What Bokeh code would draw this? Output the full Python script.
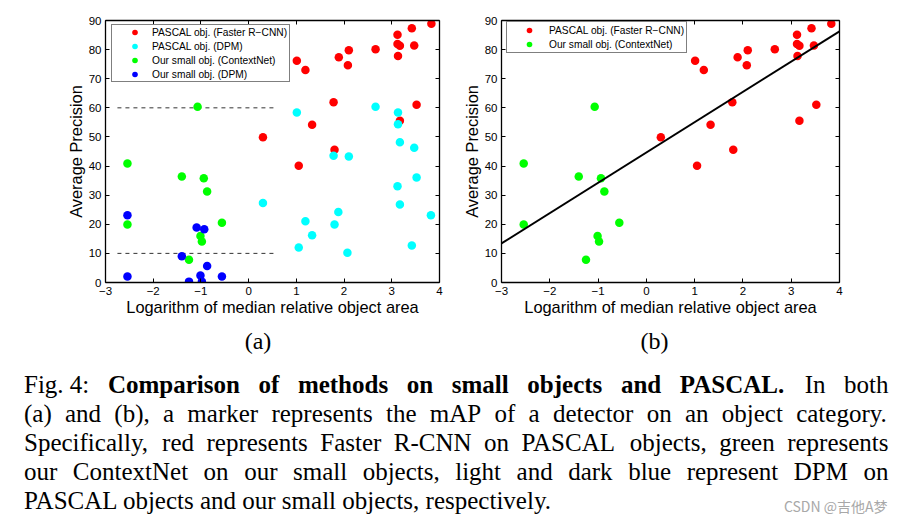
from bokeh.plotting import figure
from bokeh.models import Range1d, LinearAxis, FixedTicker, ColumnDataSource
from bokeh.layouts import column, row
from bokeh.embed import file_html
from bokeh.resources import INLINE
from bokeh.core.properties import value

# ---------------- data ----------------
# PASCAL object categories: log median relative area
pascal_x = [3.83, 3.42, 3.12, 3.12, 3.17, 3.47, 2.66, 2.10, 1.89, 2.08,
            3.13, 1.01, 1.19, 1.78, 3.52, 3.17, 1.33, 0.30, 1.80, 1.05]
frcnn_ap = [88.9, 87.3, 85.1, 81.9, 81.3, 81.4, 80.1, 79.8, 77.4, 74.6,
            77.8, 76.2, 73.0, 61.9, 61.1, 55.6, 54.2, 49.9, 45.6, 40.1]
dpm_pascal_x = [1.01, 2.66, 3.13, 3.13, 3.17, 3.47, 1.78, 2.10, 3.52, 3.12,
                0.30, 3.17, 1.88, 3.82, 1.19, 1.80, 1.33, 1.05, 3.42, 2.07]
dpm_pascal_ap = [58.4, 60.4, 58.4, 54.4, 48.2, 46.3, 43.5, 43.3, 36.1, 33.1,
                 27.3, 26.8, 24.2, 23.1, 21.0, 19.9, 16.2, 12.0, 12.7, 10.2]
# Our small object categories
small_x = [-1.07, -2.54, -1.40, -0.94, -0.87, -2.54, -0.56, -1.01, -0.98, -1.25]
contextnet_ap = [60.4, 40.9, 36.4, 35.8, 31.3, 19.9, 20.5, 16.0, 14.1, 7.8]
dpm_small_x = [-2.54, -1.09, -0.93, -1.40, -0.87, -1.01, -2.54, -0.56, -1.25, -0.98]
dpm_small_ap = [23.1, 18.9, 18.3, 9.0, 5.7, 2.4, 2.1, 2.1, 0.3, 0.3]

# dashed reference levels in (a)
thr_ap = [60, 10]
thr_x = [-2.75, 0.6]
# fitted line in (b)
fit_x = [-3, 4]
fit_y = [13.4, 86.3]

x_ticks = [-3, -2, -1, 0, 1, 2, 3, 4]
y_ticks = [0, 10, 20, 30, 40, 50, 60, 70, 80, 90]
x_label = "Logarithm of median relative object area"
y_label = "Average Precision"
legend_labels = ["PASCAL obj. (Faster R\u2212CNN)", "PASCAL obj. (DPM)",
                 "Our small obj. (ContextNet)", "Our small obj. (DPM)"]
sub_labels = ["(a)", "(b)"]
caption_lines = [
    "Fig.\u00a04: Comparison of methods on small objects and PASCAL. In both",
    "(a) and (b), a marker represents the mAP of a detector on an object category.",
    "Specifically, red represents Faster R-CNN on PASCAL objects, green represents",
    "our ContextNet on our small objects, light and dark blue represent DPM on",
    "PASCAL objects and our small objects, respectively.",
]
bold_tokens_line1 = range(1, 9)
watermark = "CSDN @\u5409\u4ed6A\u68a6"

RED, CYAN, GREEN, BLUE = "#FF0000", "#00FFFF", "#00FF00", "#0000FF"
SANS = "Liberation Sans"
SERIF = "Liberation Serif"
MS = 8.5


def style_axes(p):
    tick_over = {-3: "\u22123", -2: "\u22122", -1: "\u22121"}
    for ax in p.xaxis:
        ax.ticker = FixedTicker(ticks=x_ticks)
        ax.major_label_overrides = tick_over
        ax.axis_label = x_label
        ax.axis_label_standoff = 0
    for ax in p.yaxis:
        ax.ticker = FixedTicker(ticks=y_ticks)
        ax.axis_label = y_label
        ax.axis_label_standoff = 1
    for ax in list(p.xaxis) + list(p.yaxis):
        ax.major_tick_in = 4
        ax.major_tick_out = 0
        ax.minor_tick_in = 0
        ax.minor_tick_out = 0
        ax.axis_line_color = "black"
        ax.axis_line_width = 1.3
        ax.major_tick_line_color = "black"
        ax.major_label_text_font = SANS
        ax.major_label_text_font_size = "11.5px"
        ax.major_label_text_color = "black"
        ax.major_label_standoff = 4
        ax.axis_label_text_font = SANS
        ax.axis_label_text_font_size = "16.4px"
        ax.axis_label_text_font_style = "normal"
        ax.axis_label_text_color = "black"
    # mirrored box axes (ticks only)
    for loc, ticks in (("right", y_ticks), ("above", x_ticks)):
        ax = LinearAxis(ticker=FixedTicker(ticks=ticks),
                        major_label_overrides={t: "" for t in ticks},
                        major_tick_in=4, major_tick_out=0,
                        minor_tick_in=0, minor_tick_out=0,
                        major_label_standoff=0,
                        axis_line_color="black", axis_line_width=1.3,
                        major_label_text_font_size="1px")
        p.add_layout(ax, loc)
    p.xgrid.visible = False
    p.ygrid.visible = False
    p.outline_line_color = None


def style_legend(p, frame_h, top_gap, left_gap, n, pad_left, pad_v, gw):
    lg = p.legend[0]
    gh = 14
    h = n * gh + 2 * pad_v
    lg.location = (left_gap, frame_h - top_gap - h)
    lg.padding = dict(left=pad_left, right=2, top=pad_v, bottom=pad_v)
    lg.margin = 0
    lg.spacing = 0
    lg.glyph_height = gh
    lg.label_height = gh
    lg.glyph_width = gw
    lg.label_standoff = 0
    lg.label_text_font = SANS
    lg.label_text_font_size = "10.2px"
    lg.label_text_color = "black"
    lg.border_line_color = "black"
    lg.border_line_width = 1
    lg.background_fill_color = "white"
    lg.background_fill_alpha = 1.0


# ---------------- (a) ----------------
fa = figure(width=450, height=325, x_range=Range1d(-3, 4), y_range=Range1d(0, 90),
            title=None, output_backend="svg", toolbar_location=None,
            min_border_left=105, min_border_right=11, min_border_top=20, min_border_bottom=43,
            background_fill_color="white", border_fill_color="white")
for yv in thr_ap:
    fa.line(x=thr_x, y=[yv, yv], line_color="#333333", line_width=1, line_dash="4 4")
fa.scatter(pascal_x, frcnn_ap, size=MS, fill_color=RED, line_color=None, legend_label=legend_labels[0])
fa.scatter(dpm_pascal_x, dpm_pascal_ap, size=MS, fill_color=CYAN, line_color=None, legend_label=legend_labels[1])
fa.scatter(small_x, contextnet_ap, size=MS, fill_color=GREEN, line_color=None, legend_label=legend_labels[2])
fa.scatter(dpm_small_x, dpm_small_ap, size=MS, fill_color=BLUE, line_color=None, legend_label=legend_labels[3])
style_axes(fa)
style_legend(fa, 262, 6, 6, 4, 5, 0, 35)

# ---------------- (b) ----------------
fb = figure(width=450, height=325, x_range=Range1d(-3, 4), y_range=Range1d(0, 90),
            title=None, output_backend="svg", toolbar_location=None,
            min_border_left=51, min_border_right=61, min_border_top=17, min_border_bottom=43,
            background_fill_color="white", border_fill_color="white")
fb.scatter(pascal_x, frcnn_ap, size=MS, fill_color=RED, line_color=None, legend_label=legend_labels[0])
fb.scatter(small_x, contextnet_ap, size=MS, fill_color=GREEN, line_color=None, legend_label=legend_labels[2])
fb.line(fit_x, fit_y, line_color="black", line_width=2)
style_axes(fb)
style_legend(fb, 265, 6, 5, 2, 2, 1, 40)

# ---------------- caption ----------------
CW, CH = 900, 199
fc = figure(width=CW, height=CH, x_range=Range1d(0, CW), y_range=Range1d(CH, 0),
            title=None, output_backend="svg", toolbar_location=None, min_border=0,
            x_axis_location=None, y_axis_location=None,
            background_fill_color="white", border_fill_color="white")
fc.outline_line_color = None
fc.xgrid.visible = False
fc.ygrid.visible = False

# Times-compatible advance widths (per 1000 em) for justification
REG = dict(a=444, b=500, c=444, d=500, e=444, f=333, g=500, h=500, i=278, j=278, k=500,
           l=278, m=778, n=500, o=500, p=500, q=500, r=333, s=389, t=278, u=500, v=500,
           w=722, x=500, y=500, z=444, A=722, C=667, D=722, F=556, I=333, L=611, M=889,
           N=722, P=556, R=667, S=556)
REG.update({".": 250, ",": 250, ":": 278, "(": 333, ")": 333, "-": 333, " ": 250,
            "\u00a0": 250, "4": 500})
BOLD = dict(a=500, b=556, c=444, d=556, e=444, f=333, g=500, h=556, i=278, j=333, l=278,
            m=833, n=556, o=500, p=556, r=444, s=389, t=333, A=722, C=722, L=667, P=611, S=556)
BOLD.update({".": 250, " ": 250})

FS = 25
LEFT, RIGHT = 23.5, 888.0
base_y = [58.7, 87.7, 116.7, 145.7, 174.7]


def wlen(s, bold):
    tab = BOLD if bold else REG
    return sum(tab.get(c, 500) for c in s) * FS / 1000.0


reg = dict(x=[], y=[], t=[])
bld = dict(x=[], y=[], t=[])
for li, line in enumerate(caption_lines[:4]):
    words = line.split(" ")
    flags = [(li == 0 and i in bold_tokens_line1) for i in range(len(words))]
    widths = [wlen(w, b) for w, b in zip(words, flags)]
    gap = (RIGHT - LEFT - sum(widths)) / (len(words) - 1)
    xc = LEFT
    for w, b, wd in zip(words, flags, widths):
        d = bld if b else reg
        d["x"].append(xc)
        d["y"].append(base_y[li])
        d["t"].append(w)
        xc += wd + gap
reg["x"].append(LEFT)
reg["y"].append(base_y[4])
reg["t"].append(caption_lines[4])

fc.text(x="x", y="y", text="t", source=ColumnDataSource(reg),
        text_font=value(SERIF), text_font_size=value("%dpx" % FS),
        text_align="left", text_baseline="alphabetic", text_color="black")
fc.text(x="x", y="y", text="t", source=ColumnDataSource(bld),
        text_font=value(SERIF), text_font_size=value("%dpx" % FS), text_font_style="bold",
        text_align="left", text_baseline="alphabetic", text_color="black")
fc.text(x=[257.5, 654], y=[15, 15], text=sub_labels,
        text_font=value(SERIF), text_font_size=value("24px"),
        text_align="center", text_baseline="alphabetic", text_color="black")
fc.text(x=[887], y=[180], text=[watermark],
        text_font=value("Noto Sans CJK SC"), text_font_size=value("14px"),
        text_align="right", text_baseline="alphabetic", text_color="#a8a8a8")

layout = column(row(fa, fb), fc)
open("out.html", "w").write(file_html(layout, INLINE))
